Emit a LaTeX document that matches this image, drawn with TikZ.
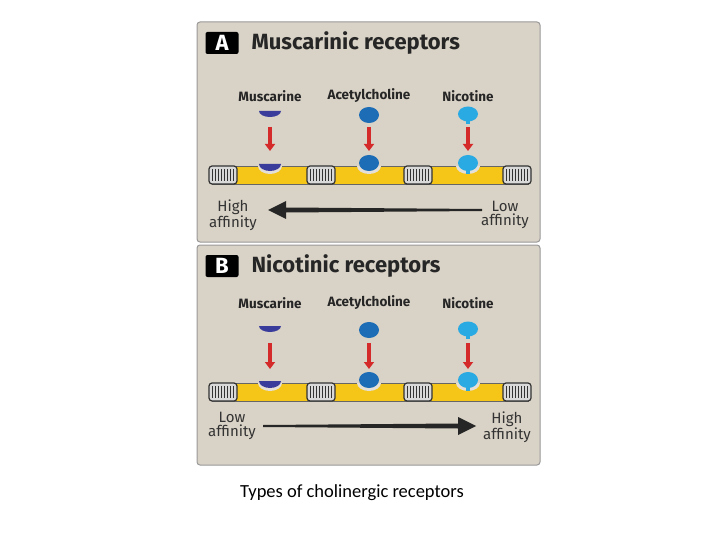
\documentclass[tikz,border=0pt]{standalone}
\usepackage{fontspec}
\usetikzlibrary{arrows.meta}
\setmainfont{Fira Sans}
\newfontfamily\capfont{Carlito}
\begin{document}
\begin{tikzpicture}[x=1pt,y=-1pt,
  panel/.style={fill=panelgray,draw=gray!80,line width=1pt,rounded corners=3pt},
  lbl/.style={font=\bfseries\fontsize{13.5}{14}\selectfont,text=black!85},
  aff/.style={font=\fontsize{15}{13.5}\selectfont,align=center,inner sep=0pt,text=black!80},
  red arrow/.style={-{Triangle[length=7pt,width=10pt]},line width=3.5pt,draw=redarr},
  mus/.style={fill=musc},ach/.style={fill=achc},nic/.style={fill=nicc},
  coil/.pic={\fill[gray!30,draw=black!80,line width=1.2pt,rounded corners=3pt] (-14,-9) rectangle (14,9);
    \foreach \i in {-11,-8,...,12} \draw[black!80,line width=1pt] (\i,-6) -- (\i,6);}]
\definecolor{panelgray}{HTML}{D9D2C6}
\definecolor{redarr}{HTML}{D42A2A}
\definecolor{musc}{HTML}{3A3C9C}
\definecolor{achc}{HTML}{1C6DB5}
\definecolor{nicc}{HTML}{2AAAE2}
\definecolor{memb}{HTML}{F5C518}
\useasboundingbox (0,0) rectangle (720,540);
\fill[white] (0,0) rectangle (720,540);
\foreach \p/\top/\ttl/\ltr in {A/22/Muscarinic receptors/A,B/245/Nicotinic receptors/B}{
  \draw[panel] (197,\top) rectangle (540,\top+220);
  \node[fill=black,rounded corners=2pt,text=white,font=\bfseries\fontsize{22}{22}\selectfont,minimum width=33pt,minimum height=22pt,inner sep=0pt] (box\p) at (222,\top+21) {\ltr};
  \node[anchor=west,font=\bfseries\fontsize{22}{24}\selectfont,text=black!85] (title\p) at (248,\top+21) {\ttl};
}
\foreach \p/\ly/\iy/\as/\ae/\my in {A/96/115/127/151/175,B/303/330/343/369/392}{
  \node[lbl] (m\p) at (270,\ly) {Muscarine};
  \node[lbl] (a\p) at (369,\ly) {Acetylcholine};
  \node[lbl] (n\p) at (468,\ly) {Nicotine};
  \fill[memb,draw=black!60,line width=0.4pt] (212,\my-9) rectangle (528,\my+9);
  \foreach \cx in {223,321,418,517} \pic at (\cx,\my) {coil};
  \fill[mus] (259,\iy-4) -- (281,\iy-4) arc[start angle=0,end angle=180,x radius=11,y radius=6] -- cycle;
  \fill[ach] (369,\iy) ellipse (10 and 8);
  \fill[nic] (468,\iy-1) ellipse (10 and 7.5);
  \fill[nic] (466,\iy+4) rectangle (470,\iy+9);
  \coordinate (s1\p) at (270,\as); \coordinate (e1\p) at (270,\ae);
  \coordinate (s2\p) at (369,\as); \coordinate (e2\p) at (369,\ae);
  \coordinate (s3\p) at (468,\as); \coordinate (e3\p) at (468,\ae);
  \foreach \k in {1,2,3} \draw[red arrow] (s\k\p) -- (e\k\p);
  \foreach \cx in {270,369,468}
    \fill[panelgray!70!white] (\cx-12,\my-9) arc[start angle=180,end angle=360,x radius=12,y radius=-8] -- cycle;
  \fill[mus] (259,\my-11) -- (281,\my-11) arc[start angle=0,end angle=180,x radius=11,y radius=7] -- cycle;
  \fill[ach] (369,\my-12) ellipse (10 and 8);
  \fill[nic] (468,\my-12) ellipse (10 and 8);
  \fill[nic] (466,\my-6) rectangle (470,\my-1);
}
\node[aff] (hA) at (233,215) {High\\affinity};
\node[aff] (lA) at (505,215) {Low\\affinity};
\coordinate (aAs) at (482,210); \coordinate (aAe) at (268,210);
\fill[black!85] (aAs) -- ++(0,-1) -- (286,207.5) -- (286,201) -- (aAe) -- (286,219) -- (286,212.5) -- ++(196,-1.5) -- cycle;
\node[aff] (lB) at (232,426) {Low\\affinity};
\node[aff] (hB) at (507,427) {High\\affinity};
\coordinate (aBs) at (263,426); \coordinate (aBe) at (476,426);
\fill[black!85] (aBs) -- ++(0,-1) -- (458,423.5) -- (458,417) -- (aBe) -- (458,435) -- (458,428.5) -- (263,427) -- cycle;
\node[font=\capfont\fontsize{18.5}{20}\selectfont] (cap) at (352,493) {Types of cholinergic receptors};
\end{tikzpicture}
\end{document}
